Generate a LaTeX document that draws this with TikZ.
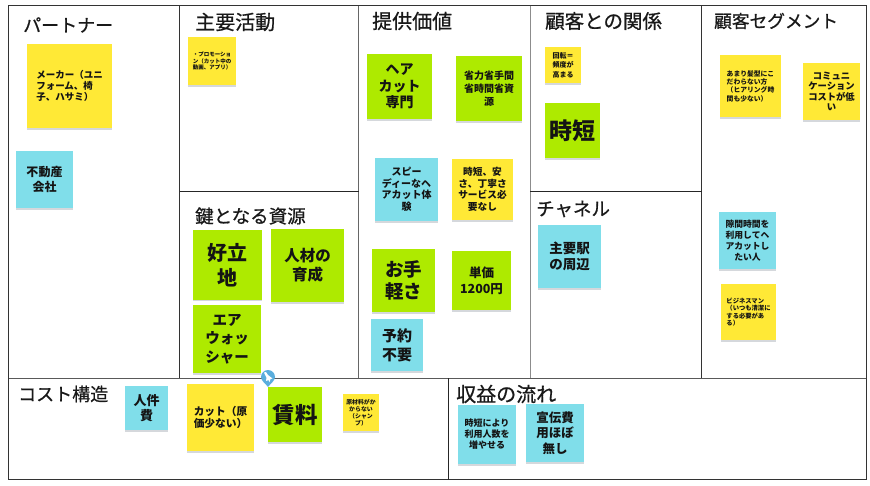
\documentclass[tikz,border=0pt]{standalone}
\usepackage{fontspec}
\setmainfont{Noto Sans CJK JP}
\newfontfamily\titlef[FakeBold=0.7]{Noto Sans CJK JP}
\usetikzlibrary{calc}
\definecolor{ny}{HTML}{FFE936}
\definecolor{ng}{HTML}{AEEA00}
\definecolor{nb}{HTML}{80DEEA}
\definecolor{ns}{HTML}{D5D8DC}
\definecolor{pinc}{HTML}{5BAEDD}
\tikzset{
  frameline/.style={draw=#1,line width=1pt},
  frameline/.default={black!80},
  title/.style={anchor=west,inner sep=0pt,font=\fontsize{#1}{#1}\selectfont\titlef,text=black!90},
  sz/.style n args={2}{font=\fontsize{#1}{#2}\selectfont\bfseries},
  ty/.style={fill=ny},
  tg/.style={fill=ng},
  tb/.style={fill=nb},
  sticky/.style={inner sep=0pt,align=center,text=black!92},
  lft/.style={align=left}
}
\newcommand{\stick}[7]{%
  \fill[ns] (#2,#3+1) rectangle (#4,#5+1.5);
  \pgfmathsetmacro{\notew}{#4-#2}\pgfmathsetmacro{\noteh}{#5-#3}
  \node[sticky,minimum width=\notew pt,minimum height=\noteh pt,#6] (#1) at ({(#2+#4)/2},{(#3+#5)/2}) {#7};
}
\begin{document}
\begin{tikzpicture}[x=1pt,y=-1pt]
\useasboundingbox[fill=white] (0,0) rectangle (870,485);
% frame
\draw[frameline] (8.5,5.5) rectangle (866,479.5);
\draw[frameline] (179.5,5.5) -- (179.5,378);
\draw[frameline={black!60}] (358.5,5.5) -- (358.5,378);
\draw[frameline={black!45}] (530,5.5) -- (530,378);
\draw[frameline] (701.5,5.5) -- (701.5,378);
\draw[frameline={black!85}] (179.5,191.5) -- (358.5,191.5);
\draw[frameline={black!85}] (530,191.5) -- (701.5,191.5);
\draw[frameline={black!65}] (8.5,378) -- (866,378);
\draw[frameline={black!85}] (448.5,378) -- (448.5,479.5);
% titles
\node[title=18] (t1) at (23,25) {パートナー};
\node[title=20] (t2) at (195,22) {主要活動};
\node[title=20] (t3) at (372,21) {提供価値};
\node[title=19.5] (t4) at (545,21) {顧客との関係};
\node[title=17.7] (t5) at (714,21) {顧客セグメント};
\node[title=18.5] (t6) at (536,209) {チャネル};
\node[title=18.5] (t7) at (195,216) {鍵となる資源};
\node[title=18] (t8) at (18,394) {コスト構造};
\node[title=20] (t9) at (456,394) {収益の流れ};
% notes
\stick{a1}{27}{44}{112}{128}{ty,lft,sz={9.5}{11}}{メーカー（ユニ\\フォーム、椅\\子、ハサミ）}
\stick{a2}{16}{151}{73}{208}{tb,sz={12}{15}}{不動産\\会社}
\stick{b1}{188}{37}{236}{85}{ty,sz={5.5}{6.8}}{・プロモーショ\\ン（カット中の\\動画、アプリ）}
\stick{c1}{193}{230}{262}{299.5}{tg,sz={20}{25}}{好立\\地}
\stick{c2}{271}{229}{344}{302}{tg,sz={15.5}{19}}{人材の\\育成}
\stick{c3}{193}{305}{261}{373}{tg,sz={14.5}{18.3}}{エア\\ウォッ\\シャー}
\stick{d1}{367}{54}{432}{119}{tg,sz={14}{16.7}}{ヘア\\カット\\専門}
\stick{d2}{456}{56}{522}{121}{tg,sz={10}{12.7}}{省力省手間\\省時間省資\\源}
\stick{d3}{375}{158}{438}{221}{tb,sz={10}{11.5}}{スピー\\ディーなヘ\\アカット体\\験}
\stick{d4}{452}{159}{513}{220}{ty,sz={9.7}{11.5}}{時短、安\\さ、丁寧さ\\サービス必\\要なし}
\stick{d5}{372}{249}{435}{312}{tg,sz={18.5}{22.3}}{お手\\軽さ}
\stick{d6}{452}{251}{511}{310}{tg,sz={12.5}{16}}{単価\\1200円}
\stick{d7}{371}{319}{423}{371}{tb,sz={15}{19}}{予約\\不要}
\stick{e1}{545}{47}{581}{83}{ty,sz={7}{9.5}}{回転＝\\頻度が\\高まる}
\stick{e2}{545}{103}{600}{158}{tg,sz={23}{23}}{時短}
\stick{f1}{538}{225}{601}{288}{tb,sz={13.5}{16}}{主要駅\\の周辺}
\stick{g1}{720}{55}{781}{117}{ty,lft,sz={6.8}{8.3}}{あまり髪型にこ\\だわらない方\\（ヒアリング時\\間も少ない）}
\stick{g2}{803}{63}{860}{120}{ty,sz={9.3}{10.6}}{コミュニ\\ケーション\\コストが低\\い}
\stick{g3}{719}{212}{776}{269}{tb,sz={8.8}{11}}{隙間時間を\\利用してヘ\\アカットし\\たい人}
\stick{g4}{721}{284}{776}{340}{ty,lft,sz={6.3}{7.6}}{ビジネスマン\\（いつも清潔に\\する必要があ\\る）}
\stick{h1}{125}{386}{168}{430}{tb,sz={13}{15.6}}{人件\\費}
\stick{h2}{187}{384}{254}{451}{ty,lft,sz={10.7}{12}}{カット（原\\価少ない）}
\stick{h3}{268}{387}{322}{442}{tg,sz={22.5}{22.5}}{賃料}
\stick{h4}{343}{394}{379}{431}{ty,sz={5.9}{7}}{原材料がか\\からない\\（シャン\\プ）}
\stick{i1}{458}{405}{516}{464}{tb,sz={9}{11}}{時短により\\利用人数を\\増やせる}
\stick{i2}{526}{404}{584}{462}{tb,sz={12.5}{15.5}}{宣伝費\\用ほぼ\\無し}
% map marker
\fill[pinc] (268,387) .. controls (266,384) and (261,381) .. (261,377) arc[start angle=180,end angle=360,radius=7] .. controls (275,381) and (270,384) .. (268,387) -- cycle;
\fill[white] (264,372.5) -- (266,372) -- (268,375) -- (272.5,378.5) -- (270.5,379) -- (269.5,382) -- (268.5,380) -- (266,381) -- (266.5,377.5) -- cycle;
\end{tikzpicture}
\end{document}
